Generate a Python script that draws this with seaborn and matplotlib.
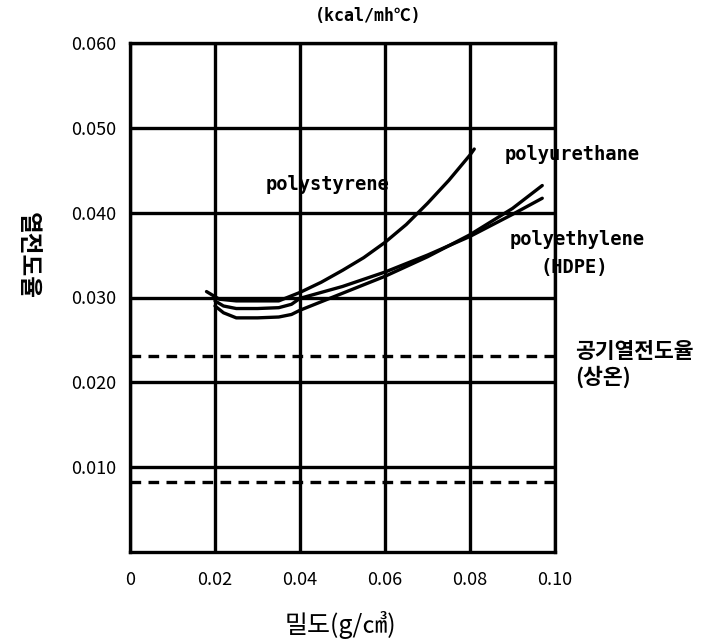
import matplotlib
matplotlib.use("Agg")
import matplotlib.pyplot as plt
import seaborn as sns
import pandas as pd

# ---- data ----
ps_x = [0.018, 0.021, 0.025, 0.030, 0.035, 0.040, 0.045, 0.050, 0.055, 0.060, 0.065, 0.070, 0.075, 0.080, 0.081]
ps_y = [0.0307, 0.0298, 0.0296, 0.0296, 0.0296, 0.0306, 0.0318, 0.0332, 0.0347, 0.0365, 0.0386, 0.0411, 0.0438, 0.0468, 0.0475]

pe_x = [0.020, 0.022, 0.025, 0.030, 0.035, 0.038, 0.040, 0.050, 0.060, 0.070, 0.080, 0.090, 0.097]
pe_y = [0.0296, 0.0290, 0.0287, 0.0287, 0.0288, 0.0292, 0.0299, 0.0313, 0.0330, 0.0350, 0.0372, 0.0398, 0.0417]

pu_x = [0.020, 0.022, 0.025, 0.030, 0.035, 0.038, 0.040, 0.050, 0.060, 0.070, 0.080, 0.090, 0.097]
pu_y = [0.0290, 0.0282, 0.0276, 0.0276, 0.0277, 0.0280, 0.0285, 0.0305, 0.0325, 0.0348, 0.0374, 0.0405, 0.0432]

air_levels = [0.0231, 0.0082]

x_ticks = [0, 0.02, 0.04, 0.06, 0.08, 0.10]
x_labels = ["0", "0.02", "0.04", "0.06", "0.08", "0.10"]
y_ticks = [0.010, 0.020, 0.030, 0.040, 0.050, 0.060]
y_labels = ["0.010", "0.020", "0.030", "0.040", "0.050", "0.060"]

sns.set_theme(style="white")
plt.rcParams['font.family'] = ['Liberation Sans Narrow', 'Noto Sans CJK KR', 'DejaVu Sans']
plt.rcParams['text.color'] = 'black'

df = pd.concat([
    pd.DataFrame({"x": ps_x, "y": ps_y, "s": "polystyrene"}),
    pd.DataFrame({"x": pe_x, "y": pe_y, "s": "polyethylene"}),
    pd.DataFrame({"x": pu_x, "y": pu_y, "s": "polyurethane"}),
])

fig = plt.figure(figsize=(7.23, 6.41), dpi=100)
ax = fig.add_axes([130/723, 1-552/641, 425/723, 509/641])

sns.lineplot(data=df, x="x", y="y", units="s", estimator=None, sort=False,
             color="black", linewidth=2.4, ax=ax, legend=False)

for lv in air_levels:
    ax.axhline(lv, color="black", linewidth=2.4, linestyle=(0, (3.2, 2.2)))

ax.set_xlim(0, 0.10)
ax.set_ylim(0, 0.060)
ax.set_xticks(x_ticks)
ax.set_xticklabels(x_labels)
ax.set_yticks(y_ticks)
ax.set_yticklabels(y_labels)
ax.tick_params(axis="both", length=0, labelsize=13, colors="black")
ax.tick_params(axis="x", pad=14)
ax.tick_params(axis="y", pad=10)
ax.grid(True, color="black", linewidth=2.4)
for sp in ax.spines.values():
    sp.set_visible(True)
    sp.set_color("black")
    sp.set_linewidth(2.4)
ax.set_xlabel("")
ax.set_ylabel("")

cjk = ['Noto Sans CJK KR', 'DejaVu Sans']
fig.text(340/723, 1-625/641, "밀도(g/㎤)", family=cjk, fontsize=18, color="black",
         ha="center", va="center")
fig.text(28/723, 1-255/641, "열전도율", family=cjk, fontsize=17, fontweight="bold",
         color="black", rotation=270, ha="center", va="center")
fig.text(368/723, 1-16/641, "(kcal/mh℃)", family=['DejaVu Sans Mono', 'Noto Sans CJK KR'],
         fontsize=12, fontweight="bold", color="black", ha="center", va="center")

mono = ['DejaVu Sans Mono']
ax.text(0.0464, 0.0433, "polystyrene", family=mono, fontsize=13.5, fontweight="bold",
        color="black", ha="center", va="center", clip_on=False)
ax.text(0.0882, 0.0468, "polyurethane", family=mono, fontsize=13.5, fontweight="bold",
        color="black", ha="left", va="center", clip_on=False)
ax.text(0.0894, 0.0368, "polyethylene", family=mono, fontsize=13.5, fontweight="bold",
        color="black", ha="left", va="center", clip_on=False)
ax.text(0.0965, 0.0335, "(HDPE)", family=mono, fontsize=13.5, fontweight="bold",
        color="black", ha="left", va="center", clip_on=False)
ax.text(0.1047, 0.0236, "공기열전도율", family=cjk, fontsize=15.5, fontweight="bold",
        color="black", ha="left", va="center", clip_on=False)
ax.text(0.1047, 0.0206, "(상온)", family=cjk, fontsize=15.5, fontweight="bold",
        color="black", ha="left", va="center", clip_on=False)

fig.savefig("out.png", dpi=100, facecolor="white")
